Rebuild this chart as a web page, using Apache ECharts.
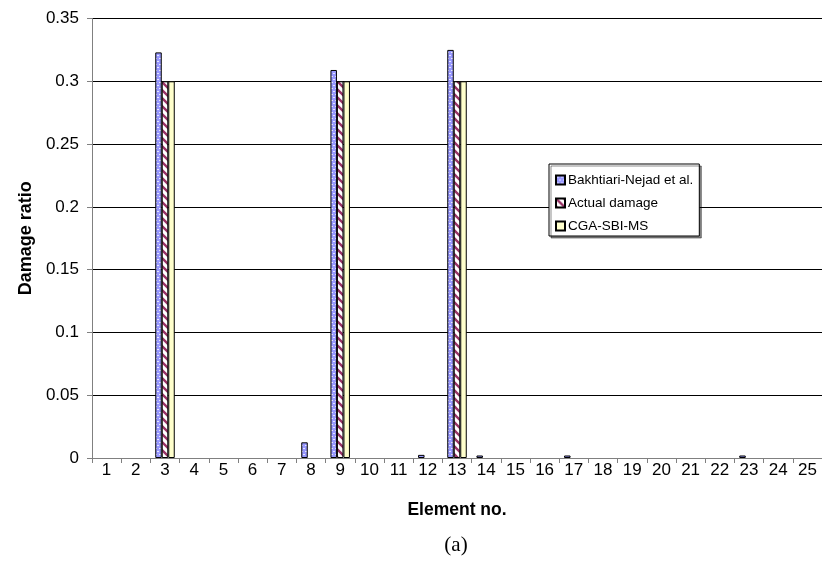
<!DOCTYPE html>
<html>
<head>
<meta charset="utf-8">
<script src="https://cdn.jsdelivr.net/npm/echarts@6/dist/echarts.min.js"></script>
<style>
  html, body { margin: 0; padding: 0; background: #ffffff; }
  #chart { width: 822px; height: 571px; }
</style>
</head>
<body>
<div id="chart"></div>
<script>
// Element numbers along the x axis
const elements = ['1','2','3','4','5','6','7','8','9','10','11','12','13','14','15','16','17','18','19','20','21','22','23','24','25'];

// Damage ratio per element for each method
const bakhtiari = [0, 0, 0.323, 0, 0, 0, 0, 0.0125, 0.309, 0, 0, 0.0025, 0.325, 0.002, 0, 0, 0.002, 0, 0, 0, 0, 0, 0.002, 0, 0];
const actual    = [0, 0, 0.3, 0, 0, 0, 0, 0, 0.3, 0, 0, 0, 0.3, 0, 0, 0, 0, 0, 0, 0, 0, 0, 0, 0, 0];
const cgaSbiMs  = [0, 0, 0.3, 0, 0, 0, 0, 0, 0.3, 0, 0, 0, 0.3, 0, 0, 0, 0, 0, 0, 0, 0, 0, 0, 0, 0];

const seriesNames = ['Bakhtiari-Nejad et al.', 'Actual damage', 'CGA-SBI-MS'];

// Undamaged elements get no bar (and so no outline on the baseline)
const bars = (arr) => arr.map(v => (v === 0 ? '-' : v));

// Fill patterns for the bars
function dottedBlue() {
  const c = document.createElement('canvas');
  c.width = 4; c.height = 6;
  const g = c.getContext('2d');
  g.fillStyle = '#9999ff';
  g.fillRect(0, 0, 4, 6);
  g.fillStyle = '#e6e6ff';
  g.fillRect(1, 1, 2, 1);
  g.fillRect(0, 4, 1, 1);
  g.fillRect(3, 4, 1, 1);
  return { image: c, repeat: 'repeat' };
}
function stripedRed() {
  const c = document.createElement('canvas');
  c.width = 8; c.height = 8;
  const g = c.getContext('2d');
  g.fillStyle = '#ffffff';
  g.fillRect(0, 0, 8, 8);
  g.strokeStyle = '#993366';
  g.lineWidth = 2.4;
  g.beginPath();
  g.moveTo(-2, -2); g.lineTo(10, 10);
  g.moveTo(-2, 6); g.lineTo(2, 10);
  g.moveTo(6, -2); g.lineTo(10, 2);
  g.stroke();
  return { image: c, repeat: 'repeat' };
}

const chart = echarts.init(document.getElementById('chart'), null, { renderer: 'canvas' });

const barStyle = (fill) => ({ color: fill, borderColor: '#000000', borderWidth: 1 });

chart.setOption({
  animation: false,
  backgroundColor: '#ffffff',
  textStyle: { fontFamily: 'Liberation Sans, Arial, sans-serif' },
  grid: { left: 92, right: 0, top: 18.5, bottom: 113, containLabel: false },
  legend: {
    orient: 'vertical',
    left: 549,
    top: 164,
    padding: [9, 6, 3, 6],
    itemGap: 9,
    itemWidth: 9,
    itemHeight: 9,
    icon: 'rect',
    backgroundColor: '#ffffff',
    borderColor: '#000000',
    borderWidth: 1,
    shadowColor: 'rgba(0,0,0,0.45)',
    shadowOffsetX: 2,
    shadowOffsetY: 2,
    shadowBlur: 0,
    textStyle: { fontSize: 13.5, lineHeight: 14, color: '#000000', padding: [0, 0, 0, -2] },
    data: seriesNames
  },
  xAxis: {
    type: 'category',
    data: elements,
    name: 'Element no.',
    nameLocation: 'middle',
    nameGap: 43,
    nameTextStyle: { fontSize: 17.5, fontWeight: 'bold', color: '#000000' },
    axisLine: { lineStyle: { color: '#808080', width: 1 } },
    axisTick: { show: true, length: 5, lineStyle: { color: '#808080' } },
    axisLabel: { fontSize: 17, color: '#000000', margin: 4, interval: 0 },
    splitLine: { show: false }
  },
  yAxis: {
    type: 'value',
    min: 0,
    max: 0.35,
    interval: 0.05,
    name: 'Damage ratio',
    nameLocation: 'middle',
    nameGap: 52,
    nameTextStyle: { fontSize: 18, fontWeight: 'bold', color: '#000000' },
    axisLine: { show: true, lineStyle: { color: '#808080', width: 1 } },
    axisTick: { show: true, length: 5, lineStyle: { color: '#808080' } },
    axisLabel: { fontSize: 17, color: '#000000', margin: 13 },
    splitLine: { show: true, lineStyle: { color: '#000000', width: 1 } }
  },
  series: [
    { name: seriesNames[0], type: 'bar', data: bars(bakhtiari), barWidth: 6.5, barGap: '0%', itemStyle: barStyle(dottedBlue()) },
    { name: seriesNames[1], type: 'bar', data: bars(actual),    barWidth: 6.5, barGap: '0%', itemStyle: barStyle(stripedRed()) },
    { name: seriesNames[2], type: 'bar', data: bars(cgaSbiMs),  barWidth: 6.5, barGap: '0%', itemStyle: barStyle('#ffffcc') }
  ],
  graphic: [{
    type: 'text',
    x: 456,
    y: 545,
    style: {
      text: '(a)',
      font: '21px "Liberation Serif", "Times New Roman", serif',
      fill: '#000000',
      align: 'center',
      verticalAlign: 'middle'
    }
  }]
});
</script>
</body>
</html>
